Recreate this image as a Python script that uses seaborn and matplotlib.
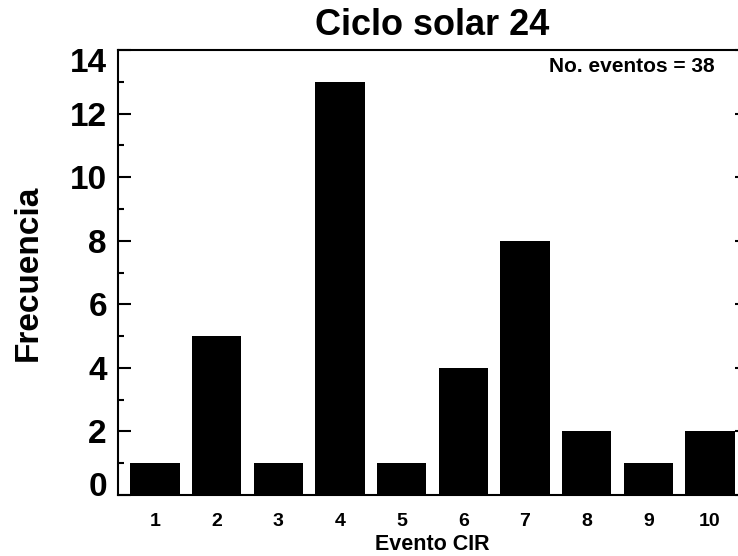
import matplotlib
matplotlib.use("Agg")
import matplotlib.pyplot as plt
import matplotlib.transforms as mtransforms
from matplotlib.ticker import MultipleLocator
import pandas as pd
import seaborn as sns

# Frequency of CIR events per event number, solar cycle 24
eventos = [1, 2, 3, 4, 5, 6, 7, 8, 9, 10]
frecuencia = [1, 5, 1, 13, 1, 4, 8, 2, 1, 2]
titulo = "Ciclo solar 24"
etiqueta_x = "Evento CIR"
etiqueta_y = "Frecuencia"

sns.set_theme(style="ticks")
plt.rcParams["font.family"] = ["Liberation Sans", "DejaVu Sans"]
plt.rcParams["font.weight"] = "bold"
plt.rcParams["text.color"] = "black"
plt.rcParams["axes.labelcolor"] = "black"
plt.rcParams["xtick.color"] = "black"
plt.rcParams["ytick.color"] = "black"
plt.rcParams["axes.edgecolor"] = "black"

W, H = 738, 556
fig = plt.figure(figsize=(W / 100, H / 100), dpi=100)
ax = fig.add_axes([118 / W, 61 / H, 629 / W, 445 / H])

df = pd.DataFrame({"Evento": eventos, "Frecuencia": frecuencia})
sns.barplot(data=df, x="Evento", y="Frecuencia", native_scale=True,
            width=0.8, color="black", saturation=1, linewidth=0, ax=ax)

ax.set_xlim(0.4, 10.6)
ax.set_ylim(0, 14)

lw = 1.5
for s in ax.spines.values():
    s.set_visible(True)
    s.set_linewidth(lw)
    s.set_color("black")

ax.set_xticks(eventos)
ax.set_xticklabels([str(e) for e in eventos])
ax.tick_params(axis="x", length=0, pad=13, labelsize=14, colors="black",
               labelcolor="black")

ax.yaxis.set_major_locator(MultipleLocator(2))
ax.yaxis.set_minor_locator(MultipleLocator(1))
ax.tick_params(axis="y", which="both", direction="in", left=True, right=True,
               width=lw, colors="black", labelcolor="black")
ax.tick_params(axis="y", which="major", length=9, labelsize=24, pad=8)
ax.tick_params(axis="y", which="minor", length=4.5)

ax.set_xlabel(etiqueta_x, fontsize=15.5, fontweight="bold", labelpad=3,
              color="black")
ax.set_ylabel(etiqueta_y, fontsize=24, fontweight="bold", color="black")
ax.yaxis.set_label_coords(-0.143, 0.5)
ax.yaxis.label.set_va("center")
ax.set_title(titulo, fontsize=26, fontweight="bold", pad=11, color="black")

ax.text(0.949, 0.9506, f"No. eventos = {sum(frecuencia)}", transform=ax.transAxes,
        ha="right", va="baseline", fontsize=15, fontweight="bold", color="black")

# keep the end labels inside the frame
fig.canvas.draw()
for lab in ax.get_yticklabels():
    if lab.get_text() == "0":
        lab.set_transform(lab.get_transform() +
                          mtransforms.ScaledTranslation(0, 11 / 100, fig.dpi_scale_trans))
    elif lab.get_text() == "14":
        lab.set_transform(lab.get_transform() +
                          mtransforms.ScaledTranslation(0, -10 / 100, fig.dpi_scale_trans))

fig.savefig("out.png", dpi=100)
